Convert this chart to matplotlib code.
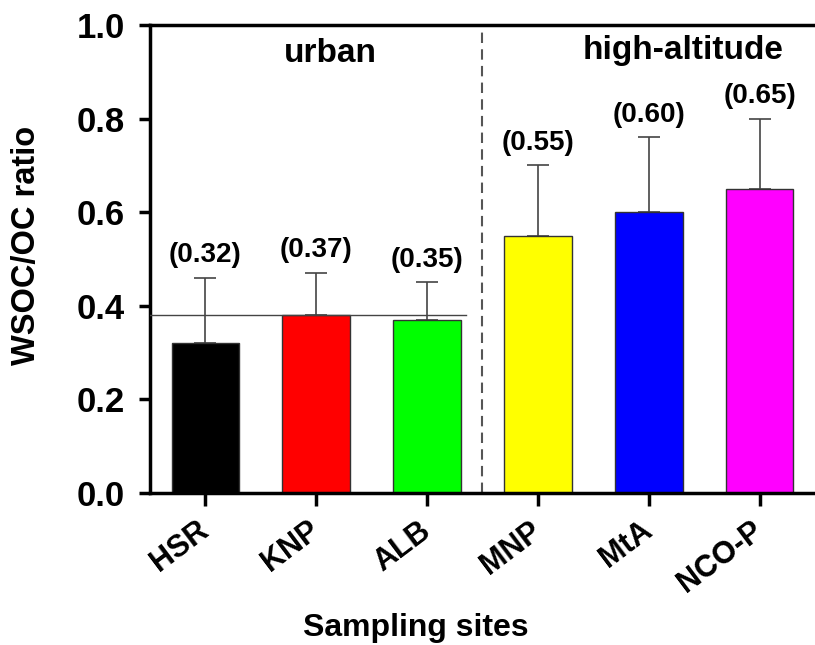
import numpy as np
import matplotlib
matplotlib.use("Agg")
import matplotlib.pyplot as plt

plt.rcParams['font.family'] = ['Liberation Sans', 'DejaVu Sans']
plt.rcParams['font.weight'] = 'bold'

# data
sites = ['HSR', 'KNP', 'ALB', 'MNP', 'MtA', 'NCO-P']
ratio = [0.32, 0.38, 0.37, 0.55, 0.60, 0.65]
err_up = [0.14, 0.09, 0.08, 0.15, 0.16, 0.15]
labels = ['(0.32)', '(0.37)', '(0.35)', '(0.55)', '(0.60)', '(0.65)']
colors = ['#000000', '#ff0000', '#00ff00', '#ffff00', '#0000ff', '#ff00ff']
urban_mean = 0.38
groups = ['urban', 'high-altitude']

fig = plt.figure(figsize=(8.15, 6.45), dpi=100)
ax = fig.add_axes([0.184, 0.236, 0.816, 0.725])

x = np.arange(len(sites))
ax.bar(x, ratio, width=0.61, color=colors, edgecolor='#333333', linewidth=1.0, zorder=2)
ax.errorbar(x, ratio, yerr=[np.zeros(len(x)), err_up], fmt='none',
            ecolor='#444444', elinewidth=1.2, capsize=8, capthick=1.2, zorder=1)

for xi, yi, e, lab in zip(x, ratio, err_up, labels):
    ax.annotate(lab, (xi, yi + e), xytext=(0, 7), textcoords='offset points',
                ha='center', va='bottom', fontsize=20, fontweight='bold')

# urban mean line and group separator
ax.plot([-0.5, 2.35], [urban_mean, urban_mean], color='#444444', lw=1.0, zorder=3)
ax.axvline(2.5, color='#555555', lw=1.5, ls=(0, (5, 3)))

ax.text(1.13, 0.94, groups[0], ha='center', va='center', fontsize=24, fontweight='bold')
ax.text(4.31, 0.945, groups[1], ha='center', va='center', fontsize=24, fontweight='bold')

ax.set_xlim(-0.5, 5.5)
ax.set_ylim(0, 1.0)
ax.set_yticks([0.0, 0.2, 0.4, 0.6, 0.8, 1.0])
ax.set_yticklabels(['0.0', '0.2', '0.4', '0.6', '0.8', '1.0'], fontsize=25, fontweight='bold')
ax.set_xticks(x)
# anchor at right-middle so the label's right end sits under the tick
ax.set_xticklabels(sites, rotation=37, ha='right', va='center', rotation_mode='anchor',
                   fontsize=22, fontweight='bold')

ax.tick_params(axis='y', direction='out', length=8, width=2.5, pad=10)
ax.tick_params(axis='x', direction='out', length=9, width=2.5, pad=16)

for side in ['left', 'bottom', 'top']:
    ax.spines[side].set_linewidth(2.5)
ax.spines['right'].set_visible(False)

ax.set_ylabel('WSOC/OC ratio', fontsize=23.5, fontweight='bold')
ax.yaxis.set_label_coords(-0.162, 0.528)
ax.set_xlabel('Sampling sites', fontsize=23, fontweight='bold')
ax.xaxis.set_label_coords(0.40, -0.258)
ax.xaxis.label.set_va('top')

fig.savefig('out.png', dpi=100)
